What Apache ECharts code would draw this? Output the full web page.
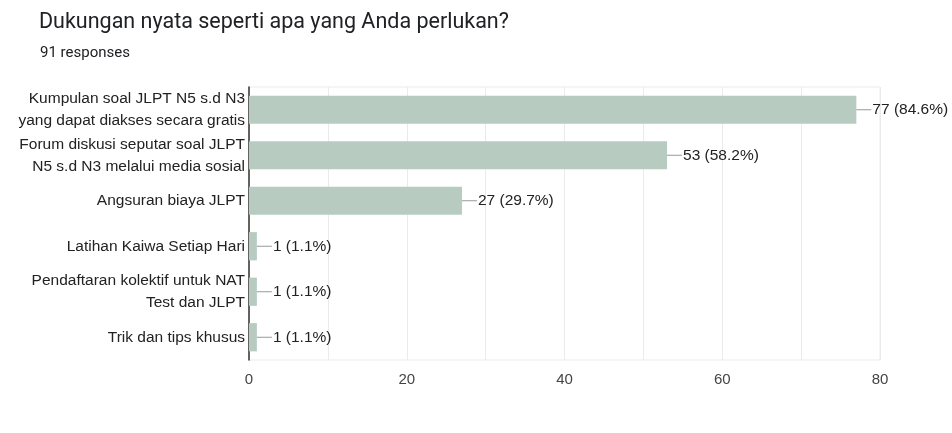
<!DOCTYPE html>
<html lang="id">
<head>
    <meta charset="UTF-8">
    <title>Dukungan nyata</title>
    <script src="https://cdn.jsdelivr.net/npm/echarts@6.0.0/dist/echarts.min.js"></script>
    <style>
        html, body { margin: 0; padding: 0; background: #fff; }
        #chart { width: 952px; height: 433px; }
    </style>
</head>
<body>
    <div id="chart"></div>
    <script>
        // jawaban dan jumlah responden
        const categories = [
            'Kumpulan soal JLPT N5 s.d N3\nyang dapat diakses secara gratis',
            'Forum diskusi seputar soal JLPT\nN5 s.d N3 melalui media sosial',
            'Angsuran biaya JLPT',
            'Latihan Kaiwa Setiap Hari',
            'Pendaftaran kolektif untuk NAT\nTest dan JLPT',
            'Trik dan tips khusus'
        ];
        const counts = [77, 53, 27, 1, 1, 1];
        const totalResponses = 91;
        const xTicks = [0, 20, 40, 60, 80];

        const font = '"Liberation Sans", Arial, sans-serif';
        const chart = echarts.init(document.getElementById('chart'));

        chart.setOption({
            animation: false,
            title: [{
                text: 'Dukungan nyata seperti apa yang Anda perlukan?',
                left: 34, top: 7,
                textStyle: { fontFamily: 'Roboto, sans-serif', fontSize: 21.5, fontWeight: 'normal', color: '#202124' }
            }, {
                text: totalResponses + ' responses',
                left: 35, top: 41,
                textStyle: { fontFamily: 'Roboto, sans-serif', fontSize: 15, fontWeight: 'normal', color: '#202124' }
            }],
            grid: {
                left: 249, right: 72, top: 87, bottom: 73,
                show: true, borderColor: '#ebebeb', borderWidth: 1
            },
            xAxis: {
                type: 'value',
                min: 0, max: 80, interval: 10,
                axisLine: { show: false },
                axisTick: { show: false },
                splitLine: { lineStyle: { color: '#ebebeb' } },
                axisLabel: {
                    margin: 12,
                    fontFamily: font, fontSize: 15, color: '#444',
                    formatter: v => xTicks.indexOf(v) >= 0 ? String(v) : ''
                }
            },
            yAxis: {
                type: 'category',
                inverse: true,
                data: categories,
                axisLine: { show: true, lineStyle: { color: '#333', width: 1.5 } },
                axisTick: { show: false },
                axisLabel: {
                    margin: 4,
                    fontFamily: font, fontSize: 15.5, color: '#222', lineHeight: 22
                }
            },
            series: [{
                type: 'bar',
                data: counts,
                barCategoryGap: '38%',
                itemStyle: { color: '#b7cbc1' },
                label: {
                    show: true,
                    position: 'right',
                    distance: 0,
                    formatter: p => '{l| }{t|' + p.value + ' (' + (p.value / totalResponses * 100).toFixed(1) + '%)}',
                    rich: {
                        l: { width: 15, height: 1, backgroundColor: '#999', fontSize: 1, lineHeight: 1 },
                        t: { fontFamily: font, fontSize: 15.5, color: '#222', padding: [0, 0, 0, 1] }
                    }
                }
            }]
        });
    </script>
</body>
</html>
